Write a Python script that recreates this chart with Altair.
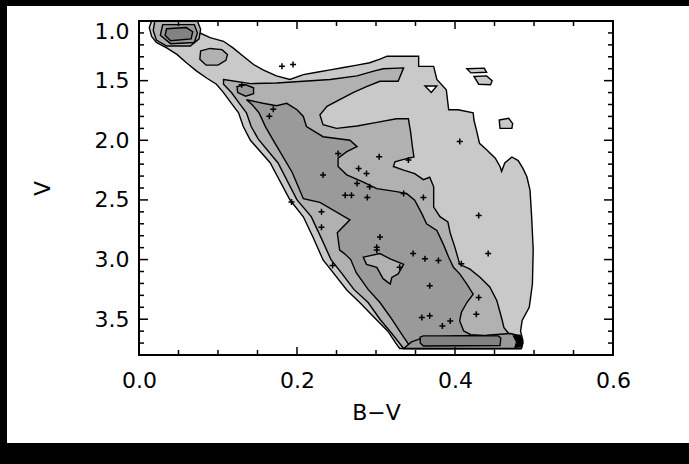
import altair as alt
import pandas as pd

# ---------------- data (B-V, V) ----------------
# outermost contour level (light grey)
L1_BV = [0.016, 0.073, 0.077, 0.090, 0.107, 0.119, 0.132, 0.145, 0.157, 0.174, 0.191, 0.208, 0.225, 0.242,
         0.259, 0.276, 0.292, 0.305, 0.314, 0.354, 0.354, 0.373, 0.375, 0.377, 0.389, 0.392, 0.404, 0.423,
         0.424, 0.427, 0.431, 0.440, 0.451, 0.457, 0.459, 0.463, 0.472, 0.480, 0.486, 0.491, 0.495, 0.497,
         0.499, 0.498, 0.494, 0.485, 0.483, 0.486, 0.484, 0.330, 0.325, 0.315, 0.300, 0.280, 0.263, 0.246,
         0.233, 0.220, 0.208, 0.191, 0.166, 0.141, 0.132, 0.126, 0.117, 0.107, 0.098, 0.086, 0.073, 0.060,
         0.048, 0.035, 0.022, 0.016, 0.013]
L1_V = [1.000, 1.000, 1.100, 1.140, 1.170, 1.225, 1.295, 1.365, 1.410, 1.460, 1.490, 1.450, 1.430, 1.410,
        1.390, 1.370, 1.350, 1.320, 1.295, 1.295, 1.380, 1.380, 1.435, 1.490, 1.576, 1.744, 1.744, 1.770,
        1.830, 1.910, 2.025, 2.080, 2.150, 2.220, 2.260, 2.190, 2.140, 2.170, 2.236, 2.306, 2.420, 2.640,
        2.920, 3.205, 3.400, 3.510, 3.600, 3.680, 3.745, 3.745, 3.700, 3.600, 3.500, 3.364, 3.255, 3.112,
        3.003, 2.809, 2.641, 2.499, 2.188, 2.000, 1.885, 1.770, 1.690, 1.600, 1.530, 1.480, 1.420, 1.350,
        1.280, 1.225, 1.180, 1.130, 1.055]
ISLE_A1_BV = [0.415, 0.437, 0.440, 0.420]
ISLE_A1_V = [1.400, 1.395, 1.430, 1.435]
ISLE_A2_BV = [0.424, 0.440, 0.447, 0.445, 0.430]
ISLE_A2_V = [1.465, 1.460, 1.500, 1.535, 1.530]
ISLE_B_BV = [0.456, 0.468, 0.473, 0.472, 0.457]
ISLE_B_V = [1.830, 1.815, 1.860, 1.900, 1.900]
HOLE_BV = [0.362, 0.377, 0.370]
HOLE_V = [1.545, 1.545, 1.600]

# second level (medium grey)
B_RING_BV = [0.020, 0.074, 0.078, 0.076, 0.065, 0.035, 0.022, 0.018]
B_RING_V = [1.000, 1.000, 1.070, 1.150, 1.210, 1.210, 1.160, 1.080]
B_BLOB_BV = [0.078, 0.090, 0.105, 0.112, 0.110, 0.100, 0.085, 0.077]
B_BLOB_V = [1.250, 1.230, 1.240, 1.280, 1.330, 1.370, 1.370, 1.320]
B_MAIN_BV = [0.107, 0.141, 0.174, 0.208, 0.242, 0.276, 0.297, 0.309, 0.335, 0.328, 0.305, 0.288, 0.271,
             0.254, 0.238, 0.229, 0.233, 0.250, 0.276, 0.301, 0.326, 0.341, 0.344, 0.346, 0.348, 0.335,
             0.324, 0.322, 0.335, 0.349, 0.360, 0.368, 0.373, 0.373, 0.381, 0.391, 0.394, 0.400, 0.406,
             0.419, 0.432, 0.444, 0.453, 0.459, 0.462, 0.468, 0.480, 0.482, 0.335, 0.320, 0.305, 0.290,
             0.272, 0.256, 0.243, 0.230, 0.218, 0.200, 0.176, 0.151, 0.142, 0.136, 0.127, 0.117, 0.107]
B_MAIN_V = [1.490, 1.525, 1.520, 1.505, 1.490, 1.460, 1.420, 1.400, 1.393, 1.505, 1.505, 1.550, 1.600,
            1.660, 1.716, 1.787, 1.870, 1.900, 1.880, 1.850, 1.820, 1.820, 1.940, 2.050, 2.140, 2.160,
            2.180, 2.220, 2.250, 2.280, 2.330, 2.310, 2.390, 2.560, 2.640, 2.685, 2.780, 2.900, 3.040,
            3.080, 3.150, 3.230, 3.345, 3.490, 3.570, 3.620, 3.640, 3.745, 3.745, 3.620, 3.500, 3.360,
            3.250, 3.110, 3.000, 2.810, 2.640, 2.500, 2.190, 1.990, 1.885, 1.770, 1.690, 1.600, 1.530]

# third level (dark grey)
C_RING_BV = [0.030, 0.070, 0.074, 0.070, 0.040, 0.027]
C_RING_V = [1.030, 1.030, 1.100, 1.180, 1.190, 1.120]
C_SMALL_BV = [0.124, 0.135, 0.145, 0.145, 0.135, 0.125]
C_SMALL_V = [1.550, 1.535, 1.560, 1.610, 1.630, 1.600]
C_MAIN_BV = [0.136, 0.157, 0.174, 0.187, 0.200, 0.208, 0.212, 0.233, 0.267, 0.276, 0.263, 0.252, 0.252,
             0.263, 0.284, 0.301, 0.326, 0.339, 0.349, 0.358, 0.364, 0.377, 0.385, 0.392, 0.398, 0.406,
             0.415, 0.423, 0.415, 0.408, 0.406, 0.411, 0.420, 0.440, 0.450, 0.345, 0.335, 0.320, 0.305,
             0.290, 0.275, 0.268, 0.260, 0.254, 0.251, 0.267, 0.229, 0.208, 0.194, 0.170, 0.160, 0.152, 0.143]
C_MAIN_V = [1.660, 1.690, 1.710, 1.690, 1.744, 1.800, 1.885, 1.970, 2.000, 2.053, 2.095, 2.150, 2.220,
            2.290, 2.350, 2.405, 2.430, 2.447, 2.503, 2.615, 2.700, 2.756, 2.868, 2.980, 3.065, 3.120,
            3.205, 3.290, 3.360, 3.444, 3.514, 3.598, 3.630, 3.640, 3.745, 3.745, 3.650, 3.500, 3.360,
            3.250, 3.110, 3.000, 2.950, 2.920, 2.775, 2.667, 2.520, 2.490, 2.270, 2.000, 1.885, 1.770, 1.700]
C_STRIP_BV = [0.335, 0.345, 0.360, 0.400, 0.440, 0.470, 0.482, 0.486, 0.484]
C_STRIP_V = [3.745, 3.690, 3.655, 3.640, 3.635, 3.620, 3.640, 3.700, 3.745]
C_ISLE_BV = [0.284, 0.305, 0.318, 0.335, 0.328, 0.320, 0.318, 0.309, 0.301, 0.288]
C_ISLE_V = [2.980, 2.950, 2.995, 3.040, 3.120, 3.150, 3.205, 3.160, 3.065, 3.040]

# innermost level (darkest grey)
D_CORE_BV = [0.035, 0.060, 0.068, 0.066, 0.040, 0.033]
D_CORE_V = [1.065, 1.055, 1.090, 1.150, 1.165, 1.120]
D_STRIP_BV = [0.356, 0.360, 0.455, 0.458, 0.457, 0.360, 0.356]
D_STRIP_V = [3.650, 3.640, 3.640, 3.660, 3.720, 3.725, 3.700]
K_BLOB_BV = [0.474, 0.482, 0.485, 0.484, 0.476, 0.478]
K_BLOB_V = [3.640, 3.635, 3.670, 3.730, 3.735, 3.690]

# individual stars
STAR_BV = [0.181, 0.195, 0.130, 0.170, 0.165, 0.406, 0.252, 0.341, 0.304, 0.233, 0.278, 0.288, 0.276,
           0.292, 0.261, 0.269, 0.289, 0.335, 0.360, 0.193, 0.231, 0.231, 0.430, 0.305, 0.301, 0.301,
           0.347, 0.362, 0.379, 0.442, 0.330, 0.245, 0.408, 0.368, 0.430, 0.427, 0.358, 0.368, 0.394, 0.384]
STAR_V = [1.379, 1.365, 1.534, 1.739, 1.798, 2.011, 2.110, 2.166, 2.138, 2.290, 2.236, 2.278, 2.362,
          2.390, 2.460, 2.460, 2.480, 2.447, 2.480, 2.517, 2.600, 2.728, 2.630, 2.810, 2.896, 2.920,
          2.950, 2.994, 3.008, 2.950, 3.065, 3.050, 3.036, 3.220, 3.317, 3.458, 3.486, 3.470, 3.514, 3.556]

# axis ticks
X_LABELS = [0.0, 0.2, 0.4, 0.6]
Y_LABELS = [1.0, 1.5, 2.0, 2.5, 3.0, 3.5]
X_MAJOR = [0.2, 0.4]
X_MINOR = [0.05, 0.1, 0.15, 0.25, 0.3, 0.35, 0.45, 0.5, 0.55]
Y_MAJOR = [1.5, 2.0, 2.5, 3.0, 3.5]
Y_MINOR = [1.1, 1.2, 1.3, 1.4, 1.6, 1.7, 1.8, 1.9, 2.1, 2.2, 2.3, 2.4, 2.6, 2.7, 2.8, 2.9,
           3.1, 3.2, 3.3, 3.4, 3.6, 3.7]

# ---------------- styling ----------------
W, H = 474, 334
C_L1, C_B, C_C, C_D = "#c9c9c9", "#b1b1b1", "#9a9a9a", "#828282"
FONT = "DejaVu Sans"

xscale = alt.Scale(domain=[0.0, 0.6], nice=False, zero=False)
yscale = alt.Scale(domain=[1.0, 3.8], nice=False, zero=False, reverse=True)
xaxis = alt.Axis(values=X_LABELS, format=".1f", ticks=False, domain=False, grid=False, zindex=5,
                 labelFlush=False,
                 labelFont=FONT, labelFontSize=22, labelColor="black", labelPadding=15,
                 titleFont=FONT, titleFontSize=22, titleFontWeight="normal", titleColor="black",
                 titleX=W / 2, titleY=57, titleBaseline="middle")
yaxis = alt.Axis(values=Y_LABELS, format=".1f", ticks=False, domain=False, grid=False, zindex=5,
                 labelFont=FONT, labelFontSize=22, labelColor="black", labelPadding=10,
                 labelFlush=True,
                 titleFont=FONT, titleFontSize=22, titleFontWeight="normal", titleColor="black",
                 titleX=-97, titleY=H / 2, titleBaseline="middle", titleAlign="center")


def X(field):
    return alt.X(field, type="quantitative", scale=xscale, axis=xaxis, title="B\u2212V")


def Y(field):
    return alt.Y(field, type="quantitative", scale=yscale, axis=yaxis, title="V")


def poly(bv, v, fill):
    df = pd.DataFrame({"bv": bv, "v": v, "i": list(range(len(bv)))})
    return alt.Chart(df).mark_line(
        fill=fill, stroke="black", strokeWidth=1.4, interpolate="linear-closed"
    ).encode(x=X("bv"), y=Y("v"), order=alt.Order("i:Q"))


def ticks_x(vals, length):
    df = pd.DataFrame({"t": vals})
    bottom = alt.Chart(df).mark_rule(color="black", strokeWidth=1.5).encode(
        x=X("t"), y=alt.value(H), y2=alt.value(H - length))
    top = alt.Chart(df).mark_rule(color="black", strokeWidth=1.5).encode(
        x=X("t"), y=alt.value(0), y2=alt.value(length))
    return [bottom, top]


def ticks_y(vals, length):
    df = pd.DataFrame({"t": vals})
    left = alt.Chart(df).mark_rule(color="black", strokeWidth=1.5).encode(
        y=Y("t"), x=alt.value(0), x2=alt.value(length))
    right = alt.Chart(df).mark_rule(color="black", strokeWidth=1.5).encode(
        y=Y("t"), x=alt.value(W), x2=alt.value(W - length))
    return [left, right]


paper = alt.Chart(pd.DataFrame({"a": [0]})).mark_rect(fill="white").encode(
    x=alt.value(-132), x2=alt.value(550), y=alt.value(-15), y2=alt.value(422))

layers = [
    paper,
    poly(L1_BV, L1_V, C_L1),
    poly(ISLE_A1_BV, ISLE_A1_V, C_L1),
    poly(ISLE_A2_BV, ISLE_A2_V, C_L1),
    poly(ISLE_B_BV, ISLE_B_V, C_L1),
    poly(HOLE_BV, HOLE_V, "white"),
    poly(B_RING_BV, B_RING_V, C_B),
    poly(B_BLOB_BV, B_BLOB_V, C_B),
    poly(B_MAIN_BV, B_MAIN_V, C_B),
    poly(C_RING_BV, C_RING_V, C_C),
    poly(C_SMALL_BV, C_SMALL_V, C_C),
    poly(C_MAIN_BV, C_MAIN_V, C_C),
    poly(C_STRIP_BV, C_STRIP_V, C_C),
    poly(C_ISLE_BV, C_ISLE_V, C_B),
    poly(D_CORE_BV, D_CORE_V, C_D),
    poly(D_STRIP_BV, D_STRIP_V, C_D),
    poly(K_BLOB_BV, K_BLOB_V, "black"),
]
layers += ticks_x(X_MAJOR, 8) + ticks_x(X_MINOR, 5)
layers += ticks_y(Y_MAJOR, 9) + ticks_y(Y_MINOR, 5)

frame = alt.Chart(pd.DataFrame({"a": [0]})).mark_rect(
    fill="transparent", stroke="black", strokeWidth=2).encode(
    x=alt.value(0), x2=alt.value(W), y=alt.value(0), y2=alt.value(H))
stars = alt.Chart(pd.DataFrame({"bv": STAR_BV, "v": STAR_V})).mark_point(
    shape="M-1,0L1,0M0,-1L0,1", filled=False, stroke="black", strokeWidth=1.5,
    size=36, opacity=1).encode(x=X("bv"), y=Y("v"))
layers += [frame, stars]

chart = alt.layer(*layers).properties(
    width=W, height=H,
    background="black",
    padding={"left": 139, "top": 21, "right": 76, "bottom": 109},
    autosize=alt.AutoSizeParams(type="none"),
).configure_view(strokeWidth=0)

chart.save("out.html", embed_options={"renderer": "svg", "actions": False})
